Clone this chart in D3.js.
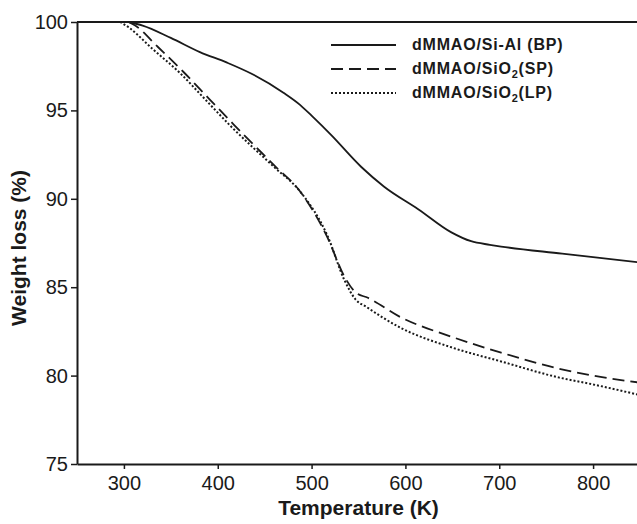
<!DOCTYPE html>
<html>
<head>
<meta charset="utf-8">
<script src="https://cdn.jsdelivr.net/npm/d3@7"></script>
<style>
  body { margin: 0; background: #fff; }
  svg { display: block; font-family: "Liberation Sans", Arial, sans-serif; }
</style>
</head>
<body>
<div id="chart"></div>
<script>
// Datos (T en K, pérdida de peso en %)
const xTicks = [300, 400, 500, 600, 700, 800]
const yTicks = [75, 80, 85, 90, 95, 100]

const bpTemp = [305, 320, 350, 381, 410, 435, 470, 488, 500, 521, 553, 577, 614, 649, 670, 690, 702, 767, 800, 850]
const bpLoss = [100, 99.8, 99.1, 98.3, 97.7, 97.1, 96.0, 95.3, 94.7, 93.6, 91.8, 90.7, 89.4, 88.1, 87.6, 87.4, 87.3, 86.9, 86.7, 86.4]

const spTemp = [305, 312, 336, 363, 390, 417, 460, 488, 517, 535, 547, 560, 595, 649, 702, 763, 800, 850]
const spLoss = [100, 99.8, 98.6, 97.2, 95.7, 94.2, 91.9, 90.4, 87.8, 85.6, 84.7, 84.4, 83.3, 82.2, 81.3, 80.4, 80.0, 79.6]

const lpTemp = [296, 305, 330, 360, 387, 414, 460, 488, 517, 535, 547, 558, 595, 649, 702, 763, 800, 850]
const lpLoss = [100, 99.7, 98.5, 97.1, 95.6, 94.1, 91.8, 90.4, 87.9, 85.4, 84.3, 83.9, 82.7, 81.6, 80.8, 79.9, 79.5, 78.9]

const seriesNames = ["dMMAO/Si-Al (BP)", "dMMAO/SiO|2|(SP)", "dMMAO/SiO|2|(LP)"]

const width = 637, height = 524
const margin = { top: 22, right: -3, bottom: 60, left: 77 }

const svg = d3.select("#chart").append("svg")
  .attr("width", width)
  .attr("height", height)

const x = d3.scaleLinear().domain([250, 850]).range([margin.left, width - margin.right])
const y = d3.scaleLinear().domain([75, 100]).range([height - margin.bottom, margin.top])

const ink = "#1a1a1a"

// Ejes
const xAxis = svg.append("g")
  .attr("transform", `translate(0,${y(75)})`)
  .call(d3.axisBottom(x).tickValues(xTicks).tickSize(5).tickSizeOuter(0))
xAxis.select(".domain").attr("stroke", ink).attr("stroke-width", 2)
xAxis.selectAll(".tick line").attr("stroke", ink).attr("stroke-width", 1.5)
xAxis.selectAll(".tick text").attr("font-size", 20).attr("fill", ink).attr("dy", "0.9em")

const yAxis = svg.append("g")
  .attr("transform", `translate(${x(250)},0)`)
  .call(d3.axisLeft(y).tickValues(yTicks).tickSize(6).tickSizeOuter(0))
yAxis.select(".domain").attr("stroke", ink).attr("stroke-width", 2)
yAxis.selectAll(".tick line").attr("stroke", ink).attr("stroke-width", 1.5)
yAxis.selectAll(".tick text").attr("font-size", 20).attr("fill", ink).attr("x", -9)

// Borde superior
svg.append("line")
  .attr("x1", x(250)).attr("x2", width)
  .attr("y1", y(100)).attr("y2", y(100))
  .attr("stroke", ink).attr("stroke-width", 2)

// Títulos de ejes
svg.append("text")
  .attr("x", (x(250) + x(850)) / 2)
  .attr("y", 515)
  .attr("text-anchor", "middle")
  .attr("font-size", 21)
  .attr("font-weight", "bold")
  .attr("fill", ink)
  .text("Temperature (K)")

svg.append("text")
  .attr("transform", `translate(26,${(y(75) + y(100)) / 2 + 5}) rotate(-90)`)
  .attr("text-anchor", "middle")
  .attr("font-size", 21)
  .attr("font-weight", "bold")
  .attr("fill", ink)
  .text("Weight loss (%)")

// Curvas
const series = [
  { name: seriesNames[0], temp: bpTemp, loss: bpLoss, dash: null, w: 1.8 },
  { name: seriesNames[1], temp: spTemp, loss: spLoss, dash: "12,6", w: 1.8 },
  { name: seriesNames[2], temp: lpTemp, loss: lpLoss, dash: "2,2", w: 2 }
]

const line = d3.line()
  .x(d => x(d[0]))
  .y(d => y(d[1]))
  .curve(d3.curveMonotoneX)

const plot = svg.append("g")
series.forEach(s => {
  plot.append("path")
    .datum(s.temp.map((t, i) => [t, s.loss[i]]))
    .attr("fill", "none")
    .attr("stroke", ink)
    .attr("stroke-width", s.w)
    .attr("stroke-dasharray", s.dash)
    .attr("d", line)
})

// Leyenda
const legend = svg.append("g")
const rowY = [45, 69, 93]
series.forEach((s, i) => {
  legend.append("line")
    .attr("x1", 331).attr("x2", 396)
    .attr("y1", rowY[i]).attr("y2", rowY[i])
    .attr("stroke", ink)
    .attr("stroke-width", s.w)
    .attr("stroke-dasharray", s.dash)

  const parts = s.name.split("|")
  const t = legend.append("text")
    .attr("x", 412)
    .attr("y", rowY[i] + 5)
    .attr("font-size", 16)
    .attr("font-weight", "bold")
    .attr("letter-spacing", 0.8)
    .attr("fill", ink)
  parts.forEach((p, k) => {
    const ts = t.append("tspan").text(p)
    if (k === 1) ts.attr("font-size", 11).attr("dy", 4)
    if (k === 2) ts.attr("dy", -4)
  })
})
</script>
</body>
</html>
